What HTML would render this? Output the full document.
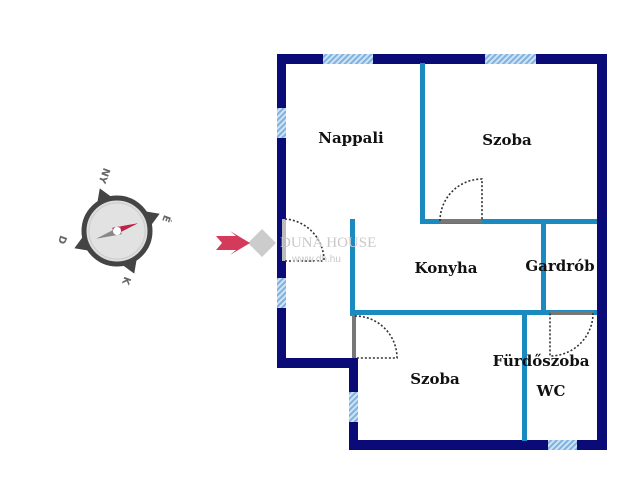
<!DOCTYPE html>
<html><head><meta charset="utf-8"><style>
body{margin:0;background:#fff;width:640px;height:490px;overflow:hidden}
</style></head><body>
<svg width="640" height="490" viewBox="0 0 640 490" xmlns="http://www.w3.org/2000/svg">
<defs>
<pattern id="h" width="4" height="4" patternUnits="userSpaceOnUse" patternTransform="rotate(45)">
<rect width="4" height="4" fill="#cfe3f5"/><rect width="2" height="4" fill="#7fb2de"/></pattern>
</defs>
<g fill="#0b0b78">
<rect x="277" y="54" width="330" height="10"/>
<rect x="597" y="54" width="10" height="396"/>
<rect x="277" y="54" width="9" height="314"/>
<rect x="277" y="358" width="81" height="10"/>
<rect x="349" y="358" width="9" height="92"/>
<rect x="349" y="440" width="258" height="10"/>
</g>
<g fill="url(#h)">
<rect x="323" y="54" width="50" height="10"/>
<rect x="485" y="54" width="51" height="10"/>
<rect x="277" y="108" width="9" height="30"/>
<rect x="277" y="278" width="9" height="30"/>
<rect x="349" y="392" width="9" height="30"/>
<rect x="548" y="440" width="29" height="10"/>
</g>
<g fill="#1a8ac0">
<rect x="420" y="63" width="5" height="161"/>
<rect x="420" y="219" width="177" height="5"/>
<rect x="541" y="219" width="5" height="95"/>
<rect x="350" y="219" width="5" height="97"/>
<rect x="350" y="310" width="247" height="5"/>
<rect x="522" y="310" width="5" height="131"/>
</g>
<g fill="#777">
<rect x="440" y="219" width="42" height="4"/>
<rect x="352" y="315" width="4" height="43"/>
<rect x="550" y="311" width="44" height="4"/>
<rect x="282" y="219" width="4" height="42" fill="#bbb"/>
</g>
<g fill="none" stroke="#333" stroke-width="1.6" stroke-dasharray="2,2">
<path d="M440 221 A42 42 0 0 1 482 179 L482 221"/>
<path d="M355 316 A42 42 0 0 1 397 358 L355 358"/>
<path d="M593 313 A43 43 0 0 1 550 356 L550 313"/>
<path d="M285 219 A42 42 0 0 1 324 261 L285 261"/>
</g>
<text x="280" y="247" font-family="Liberation Serif,serif" font-size="15" fill="#c8c8c8">DUNA HOUSE</text>
<text x="292" y="262" font-family="Liberation Sans,sans-serif" font-size="10" fill="#c8c8c8">www.dh.hu</text>
<path d="M262 229 L276 243 L262 257 L248 243Z" fill="#ccc"/>
<path d="M216 236 L236 236 L230 231 L250 243 L230 255 L236 250 L216 250 L222 243Z" fill="#d43a5a"/>
<g font-family="DejaVu Serif,serif" font-weight="bold" font-size="15" fill="#111" text-anchor="middle">
<text x="351" y="143">Nappali</text>
<text x="507" y="145">Szoba</text>
<text x="446" y="273">Konyha</text>
<text x="560" y="271">Gardrób</text>
<text x="541" y="366">Fürdőszoba</text>
<text x="551" y="396">WC</text>
<text x="435" y="384">Szoba</text>
</g>
<g transform="translate(117,231)">
<g fill="#444" transform="rotate(-22)">
<path d="M-8 -33 L0 -46 L8 -33Z"/><path d="M-8 33 L0 46 L8 33Z"/>
<path d="M-33 -8 L-46 0 L-33 8Z"/><path d="M33 -8 L46 0 L33 8Z"/>
</g>
<circle r="33" fill="#ddd" stroke="#444" stroke-width="5"/>
<circle r="28" fill="#e2e2e2" stroke="#ccc" stroke-width="1"/>
<path d="M-4 -4 L22 -4 L-4 4Z" transform="rotate(-10)" fill="#c0204a"/>
<path d="M4 -4 L-22 4 L4 4Z" transform="rotate(-10)" fill="#888"/>
<circle r="4" fill="#fff"/>
<g font-family="DejaVu Sans,sans-serif" font-weight="bold" font-size="10" fill="#666" text-anchor="middle">
<text x="-12" y="-51" transform="rotate(110 -12 -55)">NY</text>
<text x="50" y="-8" transform="rotate(110 50 -12)">É</text>
<text x="-54" y="13" transform="rotate(110 -54 9)">D</text>
<text x="10" y="54" transform="rotate(110 10 50)">K</text>
</g>
</g>
</svg>
</body></html>
